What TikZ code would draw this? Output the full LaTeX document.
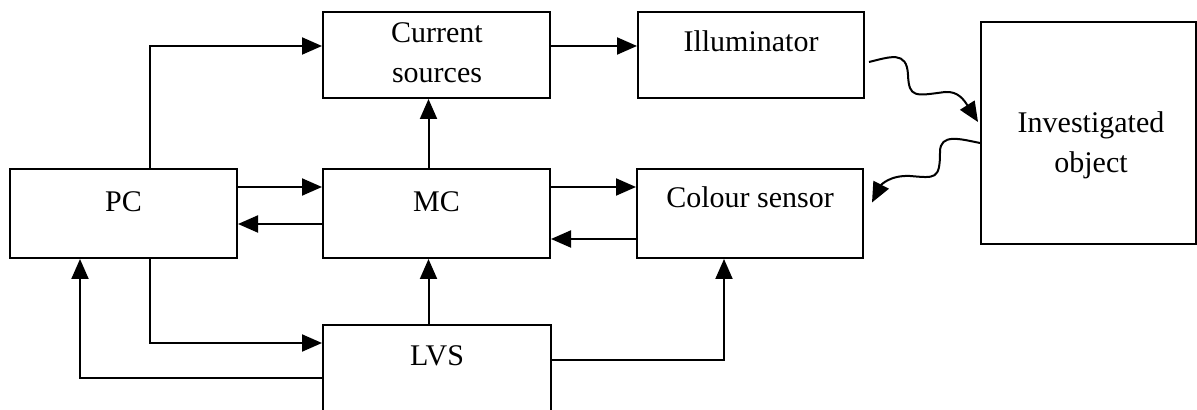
\documentclass[tikz,border=0pt]{standalone}
\usepackage{fontspec}
\setmainfont{Liberation Serif}
\usetikzlibrary{arrows.meta,calc}
\begin{document}
\begin{tikzpicture}[x=0.5pt,y=-0.5pt,
  blk/.style={draw,line width=1pt,rectangle,inner sep=0pt},
  lbl/.style={font=\fontsize{15}{20}\selectfont,inner sep=0pt,anchor=base},
  conn/.style={line width=1pt,-{Triangle[length=10pt,width=8.5pt]}},
  wave/.style={line width=1pt,-{Triangle[length=10pt,width=8.5pt]}}]
\useasboundingbox (0,0) rectangle (1197,410);
\clip (0,0) rectangle (1197,410);
% boxes
\node[blk,minimum width=113.5pt,minimum height=43pt] (cs) at (436.5,55) {};
\node[blk,minimum width=113pt,minimum height=43pt] (il) at (751,55) {};
\node[blk,minimum width=107.5pt,minimum height=111pt] (io) at (1088.5,133) {};
\node[blk,minimum width=113.5pt,minimum height=44.5pt] (pc) at (123.5,213.5) {};
\node[blk,minimum width=113.5pt,minimum height=44.5pt] (mc) at (436.5,213.5) {};
\node[blk,minimum width=113pt,minimum height=44.5pt] (cls) at (750,213.5) {};
\node[blk,minimum width=114pt,minimum height=67.5pt] (lvs) at (437,392.5) {};
% labels
\node[lbl] (tcs1) at (437,43) {Current};
\node[lbl] (tcs2) at (437,83) {sources};
\node[lbl] (til) at (751,52) {Illuminator};
\node[lbl] (tio1) at (1091,133) {Investigated};
\node[lbl] (tio2) at (1091,173) {object};
\node[lbl] (tpc) at (123.5,212) {PC};
\node[lbl] (tmc) at (436.5,212) {MC};
\node[lbl] (tcls) at (750,208) {Colour sensor};
\node[lbl] (tlvs) at (437,365) {LVS};
% connectors
\draw[conn] ($(pc.north)+(26.5,0)$) |- ($(cs.west)+(0,-9)$);
\draw[conn] ($(cs.east)+(0,-9)$) -- ($(il.west)+(0,-9)$);
\draw[conn] ($(mc.north)+(-8,0)$) -- ($(cs.south)+(-8,0)$);
\draw[conn] ($(pc.east)+(0,-26.5)$) -- ($(mc.west)+(0,-26.5)$);
\draw[conn] ($(mc.west)+(0,10.5)$) -- ($(pc.east)+(0,10.5)$);
\draw[conn] ($(mc.east)+(0,-26.5)$) -- ($(cls.west)+(0,-26.5)$);
\draw[conn] ($(cls.west)+(0,25.5)$) -- ($(mc.east)+(0,25.5)$);
\draw[conn] ($(pc.south)+(26.5,0)$) |- ($(lvs.west)+(0,-49.5)$);
\draw[conn] ($(lvs.west)+(0,-14.5)$) -| ($(pc.south)+(-43.5,0)$);
\draw[conn] ($(lvs.north)+(-8.5,0)$) -- ($(mc.south)+(-8,0)$);
\draw[conn] ($(lvs.east)+(0,-32.5)$) -| ($(cls.south)+(-26,0)$);
% wavy light paths
\coordinate (w1s) at ($(il.east)+(4,7)$);
\coordinate (w1e) at ($(io.west)+(-2,-11)$);
\coordinate (w2s) at ($(io.west)+(0,10)$);
\coordinate (w2e) at ($(cls.east)+(8,-11)$);
\draw[wave] (w1s) .. controls (890,57) and (907,50) .. (908,75)
  .. controls (909,98) and (915,96) .. (945,92)
  .. controls (958,91) and (964,100) .. (w1e);
\draw[wave] (w2s) .. controls (960,139) and (940,133) .. (940,152)
  .. controls (940,180) and (935,178) .. (910,176)
  .. controls (890,175) and (881,185) .. (w2e);
\end{tikzpicture}
\end{document}
